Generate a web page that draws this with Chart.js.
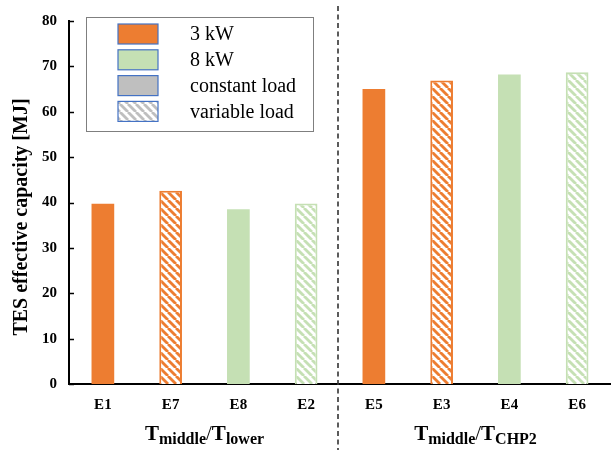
<!DOCTYPE html>
<html>
<head>
<meta charset="utf-8">
<script src="https://cdn.jsdelivr.net/npm/chart.js@4/dist/chart.umd.min.js"></script>
<style>
  body { margin: 0; background: #fff; }
  #wrap { width: 611px; height: 450px; }
</style>
</head>
<body>
<div id="wrap"><canvas id="tes" width="611" height="450"></canvas></div>
<script>
// data
const cases = ["E1", "E7", "E8", "E2", "E5", "E3", "E4", "E6"]
const capacity = [39.7, 42.6, 38.5, 39.8, 65.0, 66.9, 68.2, 68.7]
const barKind = ["3kw", "3kw-var", "8kw", "8kw-var", "3kw", "3kw-var", "8kw", "8kw-var"]
const yTicks = [0, 10, 20, 30, 40, 50, 60, 70, 80]
const legendLabels = ["3 kW", "8 kW", "constant load", "variable load"]
const yTitle = "TES effective capacity [MJ]"
const groupMain = ["middle", "middle"]
const groupSub = ["lower", "CHP2"]

const ORANGE = "#ED7D31"
const GREEN = "#C5E0B4"
const GREY = "#BFBFBF"
const SERIF = "'Liberation Serif', 'Times New Roman', serif"

function hatch(color){
    var s = 8
    var c = document.createElement("canvas")
    c.width = s; c.height = s
    var g = c.getContext("2d")
    g.fillStyle = "#fff"
    g.fillRect(0, 0, s, s)
    g.strokeStyle = color
    g.lineWidth = 2.8
    for (var k = -1; k <= 1; k++){
        g.beginPath()
        g.moveTo(k*s, 0)
        g.lineTo(k*s + s, s)
        g.stroke()
    }
    return document.getElementById("tes").getContext("2d").createPattern(c, "repeat")
}

const fills = {
    "3kw": ORANGE,
    "3kw-var": hatch(ORANGE),
    "8kw": GREEN,
    "8kw-var": hatch(GREEN)
}
const edges = { "3kw": ORANGE, "3kw-var": ORANGE, "8kw": GREEN, "8kw-var": GREEN }

// legend, axis title, group labels, divider and inward y ticks
const extras = {
    id: "extras",
    afterDraw(chart){
        const ctx = chart.ctx
        const area = chart.chartArea
        const x = chart.scales.x
        const y = chart.scales.y
        ctx.save()

        // inward tick marks on y axis
        ctx.strokeStyle = "#000"
        ctx.lineWidth = 1.5
        yTicks.forEach(v => {
            var py = Math.round(y.getPixelForValue(v)) + 0.5
            ctx.beginPath()
            ctx.moveTo(area.left, py)
            ctx.lineTo(area.left + 5, py)
            ctx.stroke()
        })

        // y title
        ctx.save()
        ctx.translate(22, 217)
        ctx.rotate(-Math.PI / 2)
        ctx.font = "bold 20px " + SERIF
        ctx.fillStyle = "#000"
        ctx.textAlign = "center"
        ctx.textBaseline = "middle"
        ctx.fillText(yTitle, 0, 0)
        ctx.restore()

        // dashed divider
        var mid = (x.getPixelForValue(3) + x.getPixelForValue(4)) / 2 - 2
        ctx.strokeStyle = "#333"
        ctx.lineWidth = 1.6
        ctx.setLineDash([5, 3.5])
        ctx.beginPath()
        ctx.moveTo(mid, 6)
        ctx.lineTo(mid, chart.height)
        ctx.stroke()
        ctx.setLineDash([])

        // group labels
        ctx.fillStyle = "#000"
        ctx.textBaseline = "alphabetic"
        ctx.textAlign = "left"
        for (var gi = 0; gi < 2; gi++){
            var cx = (x.getPixelForValue(gi*4) + x.getPixelForValue(gi*4 + 3)) / 2
            var parts = [
                ["T", "bold 21px " + SERIF, 0],
                [groupMain[gi], "bold 16px " + SERIF, 4],
                ["/", "21px " + SERIF, 0],
                ["T", "bold 21px " + SERIF, 0],
                [groupSub[gi], "bold 16px " + SERIF, 4]
            ]
            var total = 0
            parts.forEach(p => { ctx.font = p[1]; total += ctx.measureText(p[0]).width })
            var px = cx - total / 2
            parts.forEach(p => {
                ctx.font = p[1]
                ctx.fillText(p[0], px, 440 + p[2])
                px += ctx.measureText(p[0]).width
            })
        }

        // legend box
        var lx = 86, ly = 17, lw = 227, lh = 114
        ctx.fillStyle = "#fff"
        ctx.fillRect(lx, ly, lw, lh)
        ctx.strokeStyle = "#7F7F7F"
        ctx.lineWidth = 1
        ctx.strokeRect(lx + 0.5, ly + 0.5, lw, lh)
        var swFill = [ORANGE, GREEN, GREY, hatch(GREY)]
        ctx.font = "20px " + SERIF
        ctx.textBaseline = "middle"
        legendLabels.forEach((lab, i) => {
            var cy = 34 + i * 25.8
            ctx.fillStyle = swFill[i]
            ctx.fillRect(118, cy - 10, 40, 20)
            ctx.strokeStyle = "#4472C4"
            ctx.lineWidth = 1.2
            ctx.strokeRect(118, cy - 10, 40, 20)
            ctx.fillStyle = "#000"
            ctx.fillText(lab, 190, cy + 1)
        })
        ctx.restore()
    }
}

const tesChart = new Chart(document.getElementById("tes"), {
    type: "bar",
    data: {
        labels: cases,
        datasets: [{
            data: capacity,
            backgroundColor: barKind.map(k => fills[k]),
            borderColor: barKind.map(k => edges[k]),
            borderWidth: barKind.map(k => k.endsWith("var") ? 2 : 0),
            barPercentage: 0.335,
            categoryPercentage: 1
        }]
    },
    options: {
        responsive: false,
        animation: false,
        layout: { padding: { top: 20, left: 0, right: 0, bottom: 0 } },
        plugins: { legend: { display: false }, tooltip: { enabled: false } },
        scales: {
            x: {
                offset: true,
                grid: { display: false, drawTicks: false },
                border: { display: true, color: "#000", width: 2 },
                ticks: { color: "#000", padding: 12, font: { family: SERIF, size: 15, weight: "bold" } },
                afterFit: s => { s.height = 66 }
            },
            y: {
                min: 0,
                max: 80,
                grid: { display: false, drawTicks: false },
                border: { display: true, color: "#000", width: 2 },
                ticks: { stepSize: 10, color: "#000", padding: 12, font: { family: SERIF, size: 15, weight: "bold" } },
                afterFit: s => { s.width = 69 }
            }
        }
    },
    plugins: [extras]
})
</script>
</body>
</html>
